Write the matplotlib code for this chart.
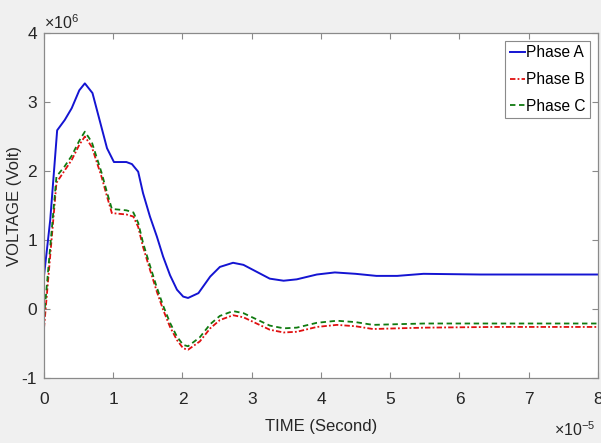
import re
import matplotlib
matplotlib.use("Agg")
import matplotlib.pyplot as plt
import numpy as np
from matplotlib.ticker import ScalarFormatter

plt.rcParams['font.family'] = ['Liberation Sans', 'DejaVu Sans']
plt.rcParams['mathtext.fontset'] = 'custom'
plt.rcParams['mathtext.rm'] = 'Liberation Sans'
plt.rcParams['mathtext.it'] = 'Liberation Sans'
plt.rcParams['axes.unicode_minus'] = False

# time in units of 1e-5 s, voltage in units of 1e6 V
t_a = [0, 0.09, 0.19, 0.30, 0.40, 0.51, 0.59, 0.70, 0.91, 1.01, 1.19, 1.27, 1.36,
       1.43, 1.53, 1.63, 1.72, 1.82, 1.92, 2.01, 2.08, 2.23, 2.40, 2.54, 2.73,
       2.88, 3.07, 3.26, 3.46, 3.65, 3.94, 4.20, 4.50, 4.80, 5.10, 5.48, 6.30,
       7.00, 8.00]
v_a = [0.48, 1.29, 2.59, 2.74, 2.91, 3.17, 3.27, 3.13, 2.33, 2.13, 2.13, 2.10, 1.99,
       1.68, 1.34, 1.05, 0.76, 0.49, 0.28, 0.18, 0.16, 0.23, 0.47, 0.61, 0.67,
       0.64, 0.54, 0.44, 0.41, 0.43, 0.50, 0.53, 0.51, 0.48, 0.48, 0.51, 0.50,
       0.50, 0.50]

t_b = [0, 0.18, 0.30, 0.40, 0.51, 0.59, 0.69, 0.83, 0.91, 0.98, 1.19, 1.29, 1.36,
       1.43, 1.53, 1.63, 1.72, 1.82, 1.92, 2.01, 2.08, 2.25, 2.40, 2.54, 2.73,
       2.88, 3.07, 3.26, 3.46, 3.65, 3.94, 4.23, 4.50, 4.75, 5.10, 5.50, 6.50,
       8.00]
v_b = [-0.28, 1.83, 2.01, 2.16, 2.38, 2.50, 2.35, 1.92, 1.63, 1.39, 1.37, 1.34, 1.19,
       0.90, 0.57, 0.25, -0.01, -0.26, -0.45, -0.57, -0.59, -0.47, -0.28, -0.16, -0.09,
       -0.12, -0.21, -0.30, -0.34, -0.33, -0.26, -0.23, -0.25, -0.29, -0.28, -0.27, -0.26,
       -0.26]

t_c = [0, 0.18, 0.30, 0.40, 0.51, 0.59, 0.69, 0.83, 0.91, 0.98, 1.19, 1.29, 1.36,
       1.43, 1.53, 1.63, 1.72, 1.82, 1.92, 2.01, 2.08, 2.25, 2.40, 2.54, 2.73,
       2.88, 3.07, 3.26, 3.46, 3.65, 3.94, 4.23, 4.50, 4.75, 5.10, 5.50, 6.50,
       8.00]
v_c = [-0.12, 1.92, 2.07, 2.22, 2.44, 2.57, 2.42, 1.98, 1.69, 1.45, 1.43, 1.40, 1.25,
       0.96, 0.63, 0.31, 0.05, -0.20, -0.40, -0.52, -0.54, -0.41, -0.22, -0.10, -0.03,
       -0.06, -0.15, -0.24, -0.28, -0.27, -0.20, -0.17, -0.19, -0.23, -0.22, -0.21, -0.21,
       -0.21]

labels = ['Phase A', 'Phase B', 'Phase C']


class PlainTickFmt(ScalarFormatter):
    # keep the x10^n offset in mathtext but write tick labels as plain text ("-1")
    def __call__(self, x, pos=None):
        s = super().__call__(x, pos)
        return re.sub(r'^\$\\mathdefault\{(.*)\}\$$', r'\1', s).replace('\u2212', '-')


fig = plt.figure(figsize=(6.01, 4.43), dpi=100, facecolor='#f0f0f0')
ax = fig.add_axes([0.0732, 0.1467, 0.9218, 0.7788])
ax.set_facecolor('white')

ax.plot(np.array(t_a) * 1e-5, np.array(v_a) * 1e6, color='#1414d2', lw=1.4,
        label=labels[0])
ax.plot(np.array(t_b) * 1e-5, np.array(v_b) * 1e6, color='#e01010', lw=1.3,
        dashes=(3, 1.2, 1, 1.2), label=labels[1])
ax.plot(np.array(t_c) * 1e-5, np.array(v_c) * 1e6, color='#107a10', lw=1.3,
        dashes=(3, 2), label=labels[2])

ax.set_xlim(0, 8e-5)
ax.set_ylim(-1e6, 4e6)
ax.set_xticks(np.arange(0, 9) * 1e-5)
ax.set_yticks(np.arange(-1, 5) * 1e6)

for axis in (ax.xaxis, ax.yaxis):
    fmt = PlainTickFmt(useMathText=True)
    fmt.set_powerlimits((0, 0))
    axis.set_major_formatter(fmt)

ax.tick_params(direction='in', length=4, width=0.8, colors='#8a8a8a',
               labelcolor='#262626', labelsize=12.5, top=True, right=True, pad=5)
ax.tick_params(axis='x', pad=10)
ax.xaxis.get_offset_text().set_fontsize(11.5)
ax.yaxis.get_offset_text().set_fontsize(11.5)
ax.xaxis.get_offset_text().set_x(0.996)
ax.xaxis.OFFSETTEXTPAD = 10
for s in ax.spines.values():
    s.set_color('#8a8a8a')
    s.set_linewidth(0.9)

ax.set_xlabel('TIME (Second)', fontsize=12, color='#262626', labelpad=9)
ax.set_ylabel('VOLTAGE (Volt)', fontsize=12, color='#262626')
ax.yaxis.set_label_coords(-0.04, 0.5)

leg = ax.legend(loc='upper right', fontsize=11.2, handlelength=1.0,
                handletextpad=0.05, borderpad=0.3, labelspacing=0.75,
                fancybox=False, framealpha=1, edgecolor='#8a8a8a',
                borderaxespad=0.5)
leg.get_frame().set_linewidth(0.8)

fig.savefig('out.png', dpi=100, facecolor=fig.get_facecolor())
